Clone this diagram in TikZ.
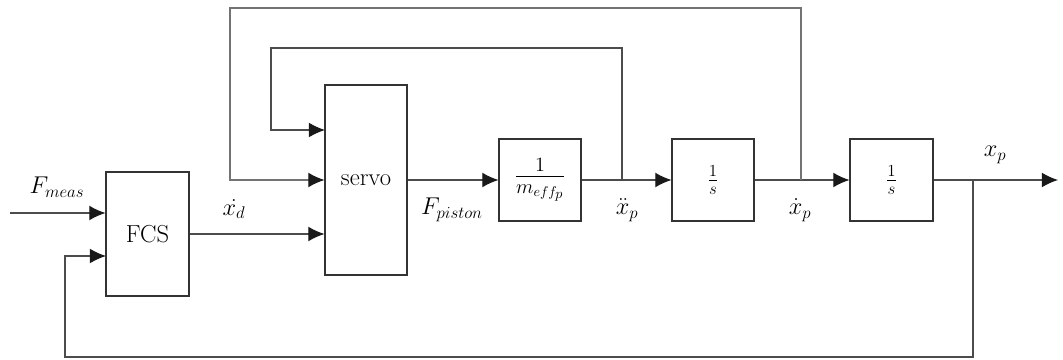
\documentclass[tikz,border=0pt]{standalone}
\usetikzlibrary{arrows.meta,calc}
\begin{document}
\begin{tikzpicture}[x=0.025cm,y=-0.025cm,
  font=\fontsize{17.5}{20}\selectfont,
  blk/.style={draw=black!80,line width=0.75pt,inner sep=0pt,minimum width=2.05cm,minimum height=2.05cm},
  wire/.style={draw=black!70,line width=0.75pt},
  arr/.style={wire,-{Latex[length=11.5pt,width=10.5pt,color=black!90]}},
  lbl/.style={inner sep=0pt}]
\useasboundingbox (0,0) rectangle (1063,360);
% blocks
\node[blk,minimum width=2.075cm,minimum height=3.1cm] (fcs) at (147.5,234) {FCS};
\node[blk,minimum height=4.75cm] (servo) at (366,180) {servo};
\node[blk,font=\fontsize{20}{22}\selectfont] (mass) at (540,180) {$\frac{1}{m_{eff_p}}$};
\node[blk] (int1) at (713,180) {$\frac{1}{s}$};
\node[blk,minimum width=2.075cm] (int2) at (891.5,180) {$\frac{1}{s}$};
% coordinates
\coordinate (in) at (10,213);
\coordinate (fin) at (106,256);
\coordinate (sin1) at (325,130);
\coordinate (b1) at (622,180);
\coordinate (b2) at (801,180);
\coordinate (b3) at (973,180);
\coordinate (out) at (1058,180);
\coordinate (t1) at (622,48);
\coordinate (t1l) at (271,48);
\coordinate (t2) at (801,8);
\coordinate (t2l) at (230,8);
\coordinate (t3) at (973,357);
\coordinate (t3l) at (65,357);
% forward path
\draw[arr] (in) -- (in -| fcs.west);
\draw[arr] (fcs.east) -- (fcs.east -| servo.west);
\draw[arr] (servo.east) -- (mass.west);
\draw[arr] (mass.east) -- (int1.west);
\draw[arr] (int1.east) -- (int2.west);
\draw[arr] (int2.east) -- (out);
% feedback loops
\draw[arr] (b1) -- (t1) -- (t1l) |- (sin1);
\draw[arr,draw=black!55] (b2) -- (t2) -- (t2l) |- (servo.west);
\draw[arr] (b3) -- (t3) -- (t3l) |- (fin);
% labels
\node[lbl] (lfm) at (57,187) {$F_{meas}$};
\node[lbl] (lxd) at (234,209) {$\dot{x_d}$};
\node[lbl] (lfp) at (452,210) {$F_{piston}$};
\node[lbl] (lxdd) at (627,210) {$\ddot{x}_p$};
\node[lbl] (lxdot) at (800,210) {$\dot{x}_p$};
\node[lbl] (lxp) at (995,155) {$x_p$};
\end{tikzpicture}
\end{document}
